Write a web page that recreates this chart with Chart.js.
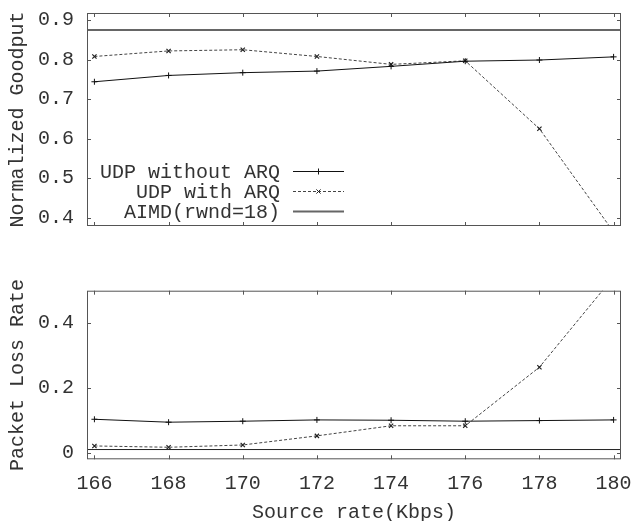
<!DOCTYPE html>
<html>
<head>
<meta charset="utf-8">
<script src="https://cdn.jsdelivr.net/npm/chart.js@4.4.1/dist/chart.umd.min.js"></script>
<style>
  body { margin: 0; background: #fff; }
  .box { position: absolute; left: 0; width: 631px; }
  #top { top: 0; height: 260px; }
  #bot { top: 260px; height: 261px; }
</style>
</head>
<body>
<div class="box" id="top"><canvas id="goodput"></canvas></div>
<div class="box" id="bot"><canvas id="loss"></canvas></div>
<script>
// source rates (Kbps)
const rates = [166, 168, 170, 172, 174, 176, 178, 180]

// normalized goodput
const goodNoArq = [0.744, 0.760, 0.767, 0.771, 0.783, 0.796, 0.799, 0.807]
const goodArq   = [0.808, 0.822, 0.825, 0.808, 0.788, 0.797, 0.625, 0.364]
const goodAimd  = 0.875

// packet loss rate
const lossNoArq = [0.103, 0.094, 0.097, 0.101, 0.100, 0.097, 0.099, 0.101]
const lossArq   = [0.021, 0.017, 0.024, 0.052, 0.083, 0.083, 0.263, 0.540]
const lossAimd  = 0.010

const goodTicks = [0.4, 0.5, 0.6, 0.7, 0.8, 0.9]
const lossTicks = [0, 0.2, 0.4]
const xMin = 165.8, xMax = 180.2

const FONT = 'Liberation Mono, Courier New, monospace'
const TXT = '#333'
const FRAME = '#555'

const pts = ys => rates.map((x, i) => ({ x, y: ys[i] }))
const flat = v => [{ x: xMin, y: v }, { x: xMax, y: v }]

function series(noArq, arq, aimd, aimdStyle) {
  return [
    { label: 'UDP without ARQ', data: pts(noArq), borderColor: '#111', borderWidth: 1,
      pointStyle: 'cross', pointRadius: 3, pointBorderColor: '#111', pointBorderWidth: 1 },
    { label: 'UDP with ARQ', data: pts(arq), borderColor: '#444', borderWidth: 1, borderDash: [3, 2],
      pointStyle: 'crossRot', pointRadius: 3, pointBorderColor: '#222', pointBorderWidth: 1.2 },
    { label: 'AIMD(rwnd=18)', data: flat(aimd), borderColor: aimdStyle.color, borderWidth: aimdStyle.width,
      pointRadius: 0 },
  ].map(d => ({ ...d, fill: false, tension: 0, clip: 0 }))
}

// gnuplot style frame with inward ticks
const frame = {
  id: 'frame',
  afterDraw(chart) {
    const { ctx, chartArea: a, scales } = chart
    ctx.save()
    ctx.strokeStyle = FRAME
    ctx.lineWidth = 1
    ctx.strokeRect(a.left + 0.5, a.top + 0.5, a.right - a.left - 1, a.bottom - a.top - 1)
    ctx.beginPath()
    scales.x.ticks.forEach(t => {
      const px = Math.round(scales.x.getPixelForValue(t.value)) + 0.5
      ctx.moveTo(px, a.top); ctx.lineTo(px, a.top + 4)
      ctx.moveTo(px, a.bottom); ctx.lineTo(px, a.bottom - 4)
    })
    scales.y.ticks.forEach(t => {
      const py = Math.round(scales.y.getPixelForValue(t.value)) + 0.5
      ctx.moveTo(a.left, py); ctx.lineTo(a.left + 4, py)
      ctx.moveTo(a.right, py); ctx.lineTo(a.right - 4, py)
    })
    ctx.stroke()
    ctx.restore()
  }
}

// legend inside the plot, text right-aligned left of the sample
const keyBox = {
  id: 'keyBox',
  afterDraw(chart) {
    const { ctx } = chart
    ctx.save()
    ctx.font = `20px ${FONT}`
    ctx.fillStyle = TXT
    ctx.textAlign = 'right'
    ctx.textBaseline = 'middle'
    chart.data.datasets.forEach((d, i) => {
      const y = 171.5 + i * 20
      ctx.fillText(d.label, 280, y + 1)
      ctx.strokeStyle = d.borderColor
      ctx.lineWidth = d.borderWidth
      ctx.setLineDash(d.borderDash || [])
      ctx.beginPath(); ctx.moveTo(293, y); ctx.lineTo(344, y); ctx.stroke()
      ctx.setLineDash([])
      if (d.pointRadius) {
        ctx.lineWidth = 1
        ctx.strokeStyle = d.pointBorderColor
        ctx.beginPath()
        const cx = 318.5, r = 3
        if (d.pointStyle === 'cross') {
          ctx.moveTo(cx - r, y); ctx.lineTo(cx + r, y); ctx.moveTo(cx, y - r); ctx.lineTo(cx, y + r)
        } else {
          ctx.moveTo(cx - r * 0.7, y - r * 0.7); ctx.lineTo(cx + r * 0.7, y + r * 0.7)
          ctx.moveTo(cx - r * 0.7, y + r * 0.7); ctx.lineTo(cx + r * 0.7, y - r * 0.7)
        }
        ctx.stroke()
      }
    })
    ctx.restore()
  }
}

const noPad = s => { s.paddingTop = 0; s.paddingBottom = 0; s.paddingLeft = 0; s.paddingRight = 0 }

function options(cfg) {
  return {
    responsive: true, maintainAspectRatio: false, animation: false,
    layout: { padding: { left: 0, right: 10, top: cfg.padTop, bottom: 0 } },
    plugins: { legend: { display: false }, tooltip: { enabled: false } },
    scales: {
      x: {
        type: 'linear', min: xMin, max: xMax,
        grid: { display: false }, border: { display: false },
        afterBuildTicks: s => { s.ticks = rates.map(v => ({ value: v })) },
        afterFit: s => { s.height = cfg.xHeight; noPad(s) },
        ticks: { display: cfg.xLabels, padding: 4, color: TXT, font: { family: FONT, size: 20 },
          callback: v => String(v), maxRotation: 0, autoSkip: false },
        title: { display: cfg.xLabels, text: 'Source rate(Kbps)', color: TXT,
          font: { family: FONT, size: 20, lineHeight: 0.85 }, padding: { top: 0, bottom: 0 } },
      },
      y: {
        min: cfg.yMin, max: cfg.yMax,
        grid: { display: false }, border: { display: false },
        afterBuildTicks: s => { s.ticks = cfg.yTicks.map(v => ({ value: v })) },
        afterFit: s => { s.width = 87; noPad(s) },
        ticks: { padding: 5, color: TXT, font: { family: FONT, size: 20 }, callback: cfg.fmt },
        title: { display: true, text: cfg.yTitle, color: TXT,
          font: { family: FONT, size: 20, lineHeight: 1 }, padding: { top: 8, bottom: 0 } },
      }
    }
  }
}

new Chart(document.getElementById('goodput'), {
  type: 'line',
  data: { datasets: series(goodNoArq, goodArq, goodAimd, { color: '#666', width: 2 }) },
  options: options({ padTop: 13, xHeight: 34, xLabels: false, yMin: 0.379, yMax: 0.918,
    yTicks: goodTicks, fmt: v => v.toFixed(1), yTitle: 'Normalized Goodput' }),
  plugins: [frame, keyBox]
})

new Chart(document.getElementById('loss'), {
  type: 'line',
  data: { datasets: series(lossNoArq, lossArq, lossAimd, { color: '#222', width: 1 }) },
  options: options({ padTop: 30.7, xHeight: 61.7, xLabels: true, yMin: -0.02, yMax: 0.498,
    yTicks: lossTicks, fmt: v => v === 0 ? '0' : v.toFixed(1), yTitle: 'Packet Loss Rate' }),
  plugins: [frame]
})
</script>
</body>
</html>
